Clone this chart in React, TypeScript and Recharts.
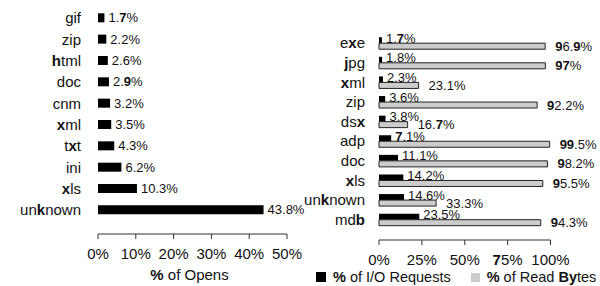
import React from 'react';
import { BarChart, Bar, XAxis, YAxis, LabelList } from 'recharts';

const openTypes = ['gif', 'zip', 'html', 'doc', 'cnm', 'xml', 'txt', 'ini', 'xls', 'unknown'];
const openShares = [1.7, 2.2, 2.6, 2.9, 3.2, 3.5, 4.3, 6.2, 10.3, 43.8];
const openTicks = [0, 10, 20, 30, 40, 50];

const ioTypes = ['exe', 'jpg', 'xml', 'zip', 'dsx', 'adp', 'doc', 'xls', 'unknown', 'mdb'];
const ioRequests = [1.7, 1.8, 2.3, 3.6, 3.8, 7.1, 11.1, 14.2, 14.6, 23.5];
const readBytes = [96.9, 97, 23.1, 92.2, 16.7, 99.5, 98.2, 95.5, 33.3, 94.3];
const ioTicks = [0, 25, 50, 75, 100];

const FONT = '"Liberation Sans", Arial, Helvetica, sans-serif';
const INK = '#111';

// the source pdf renders some glyphs heavier than others
const HEAVY = /[79xkbhjBy]/;

function rich(text: string) {
  const parts: { s: string; b: boolean }[] = [];
  for (const ch of text) {
    const b = HEAVY.test(ch);
    const last = parts[parts.length - 1];
    if (last && last.b === b) last.s += ch;
    else parts.push({ s: ch, b });
  }
  return parts.map((p, i) => (
    <tspan key={i} fontWeight={p.b ? 'bold' : 'normal'}>{p.s}</tspan>
  ));
}

const openData = openTypes.map((type, i) => ({ type, share: openShares[i] }));
const ioData = ioTypes.map((type, i) => ({ type, requests: ioRequests[i], bytes: readBytes[i] }));

const CatTick = (p: any) => (
  <text x={p.x} y={p.y} dy="0.355em" textAnchor="end" fontSize={15} fill={INK} fontFamily={FONT}>
    {rich(String(p.payload.value))}
  </text>
);

const NumTick = (p: any) => (
  <text x={p.x} y={p.y} dy="0.71em" textAnchor="middle" fontSize={15} fill={INK} fontFamily={FONT}>
    {rich(`${p.payload.value}%`)}
  </text>
);

const valueLabel = (offset: number, dy: number) => (p: any) => {
  const vb = p.viewBox ?? p;
  const x = (vb.x ?? p.x) + (vb.width ?? p.width);
  const y = (vb.y ?? p.y) + (vb.height ?? p.height) / 2;
  return (
    <text x={x + offset} y={y + dy} dy="0.355em" fontSize={13} fill={INK} fontFamily={FONT}>
      {rich(`${p.value}%`)}
    </text>
  );
};

export default function App() {
  return (
    <div style={{ position: 'absolute', left: 0, top: 0, width: 600, height: 286, background: '#fff', fontFamily: FONT }}>
      {/* Opens by file type */}
      <div style={{ position: 'absolute', left: 0, top: 0 }}>
        <BarChart width={310} height={286} layout="vertical" data={openData}
          margin={{ top: 2, right: 23, bottom: 0, left: 0 }} barSize={9}>
          <XAxis type="number" domain={[0, 50]} ticks={openTicks} height={52}
            tickSize={5} tickMargin={9} stroke="#333" tick={NumTick}
            label={{
              content: (p: any) => {
                const vb = p.viewBox;
                return (
                  <text x={vb.x + vb.width / 2 - 3} y={vb.y + 41} dy="0.355em" textAnchor="middle"
                    fontSize={15} fill={INK} fontFamily={FONT}>
                    <tspan fontWeight="bold">%</tspan> of Opens
                  </text>
                );
              },
            }} />
          <YAxis type="category" dataKey="type" width={98} axisLine={false} tickLine={false}
            tickSize={6} tickMargin={11} padding={{ top: 5.3, bottom: 13.3 }} interval={0} tick={CatTick} />
          <Bar dataKey="share" fill="#000" isAnimationActive={false}>
            <LabelList dataKey="share" content={valueLabel(4, 0)} />
          </Bar>
        </BarChart>
      </div>

      {/* I/O requests vs read bytes */}
      <div style={{ position: 'absolute', left: 300, top: 0 }}>
        <BarChart width={300} height={286} layout="vertical" data={ioData}
          margin={{ top: 30, right: 49.5, bottom: 0, left: 0 }} barSize={6} barGap={0}>
          <XAxis type="number" domain={[0, 100]} ticks={ioTicks} height={46}
            tickSize={5} tickMargin={9} stroke="#333" tick={NumTick} />
          <YAxis type="category" dataKey="type" width={79} axisLine={false} tickLine={false}
            tickSize={6} tickMargin={8} padding={{ top: 3.2, bottom: 10.7 }} interval={0} tick={CatTick} />
          <Bar dataKey="requests" fill="#000" isAnimationActive={false}>
            <LabelList dataKey="requests" content={valueLabel(4, -2)} />
          </Bar>
          <Bar dataKey="bytes" fill="#cccccc" stroke="#222" strokeWidth={1} isAnimationActive={false}>
            <LabelList dataKey="bytes" content={valueLabel(10, 0)} />
          </Bar>
        </BarChart>
      </div>

      {/* legend */}
      <div style={{ position: 'absolute', left: 316, top: 269, display: 'flex', alignItems: 'center', fontSize: 14.5, color: INK, whiteSpace: 'nowrap' }}>
        <span style={{ display: 'inline-block', width: 10, height: 10, background: '#000', marginRight: 7 }} />
        <span><b>%</b> of I/O Requests</span>
        <span style={{ display: 'inline-block', width: 9, height: 9, background: '#cccccc', marginLeft: 20, marginRight: 7 }} />
        <span><b>%</b> of Read <b>By</b>tes</span>
      </div>
    </div>
  );
}
